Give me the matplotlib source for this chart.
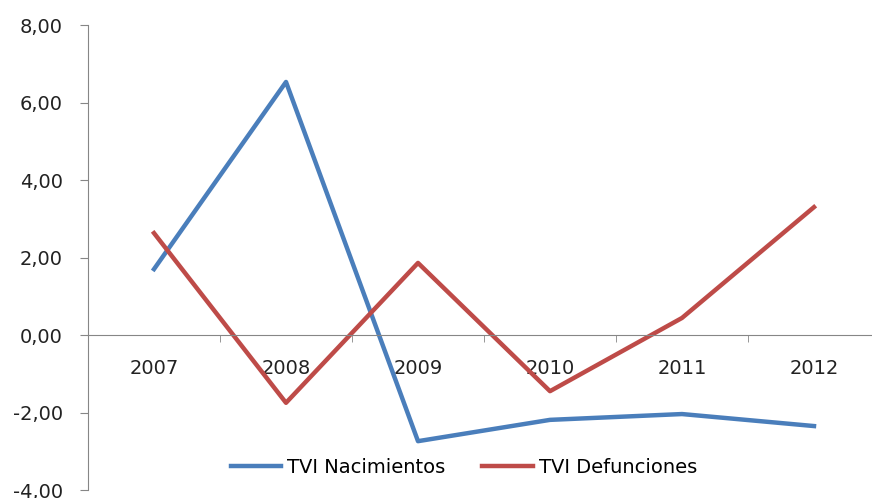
import matplotlib
matplotlib.use("Agg")
import matplotlib.pyplot as plt
import numpy as np

years = ["2007", "2008", "2009", "2010", "2011", "2012"]
nacimientos = [1.70, 6.53, -2.74, -2.19, -2.04, -2.35]
defunciones = [2.63, -1.75, 1.86, -1.45, 0.44, 3.30]
yticks = [-4, -2, 0, 2, 4, 6, 8]
series_names = ["TVI Nacimientos", "TVI Defunciones"]

fig = plt.figure(figsize=(8.72, 4.98), dpi=100)
ax = fig.add_axes([88/872, 8/498, 792/872, 465/498])
x = np.arange(len(years))
ax.plot(x, nacimientos, color="#4A7EBB", lw=3.2, label=series_names[0], solid_joinstyle="round")
ax.plot(x, defunciones, color="#BE4B48", lw=3.2, label=series_names[1], solid_joinstyle="round")

ax.set_xlim(-0.5, len(years) - 0.5)
ax.set_ylim(-4, 8)
ax.set_yticks(yticks)
ax.set_yticklabels([f"{v:.2f}".replace(".", ",") for v in yticks])
ax.set_xticks(x)
ax.set_xticklabels(years)
ax.set_xticks(np.arange(0.5, len(years) - 0.5, 1), minor=True)
ax.tick_params(axis="x", which="major", length=0, pad=17, labelsize=14, labelcolor="#222222")
ax.tick_params(axis="x", which="minor", length=5, color="#868686", direction="out")
ax.tick_params(axis="y", length=6, color="#868686", pad=12, labelsize=14, labelcolor="#222222")

for s in ["top", "right"]:
    ax.spines[s].set_visible(False)
ax.spines["bottom"].set_position(("data", 0))
ax.spines["bottom"].set_color("#868686")
ax.spines["left"].set_color("#868686")

fig.legend(loc="center", bbox_to_anchor=(0.532, 0.062), ncol=2, frameon=False,
           fontsize=14, handlelength=2.6, handletextpad=0.3, columnspacing=1.9)

fig.savefig("out.png", dpi=100)
